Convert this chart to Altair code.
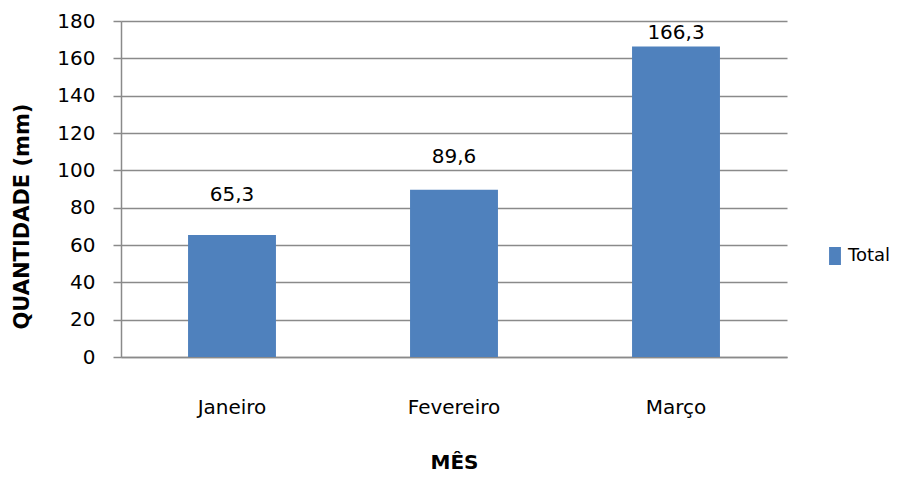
import altair as alt
import pandas as pd

months = ["Janeiro", "Fevereiro", "Março"]
totals = [65.3, 89.6, 166.3]
series = ["Total", "Total", "Total"]
y_ticks = [0, 20, 40, 60, 80, 100, 120, 140, 160, 180]
label_lift = {"Janeiro": 40, "Fevereiro": 33, "Março": 14}

df = pd.DataFrame({"Mes": months, "Total": totals, "Serie": series})

FONT = "DejaVu Sans"
GRAY = "#8a8a8a"
BLUE = "#4F81BD"

x_enc = alt.X(
    "Mes:N",
    sort=months,
    scale=alt.Scale(paddingInner=0.604, paddingOuter=0.302),
    axis=alt.Axis(
        title="MÊS", labelAngle=0, ticks=False, tickSize=0, labelPadding=40,
        labelFontSize=20, labelFont=FONT, labelColor="black",
        titleFont=FONT, titleFontSize=20, titleFontWeight="bold", titleColor="black",
        titleY=105, titleBaseline="middle",
        domainColor=GRAY, domainWidth=1.5, grid=False,
    ),
)
y_enc = alt.Y(
    "Total:Q",
    scale=alt.Scale(domain=[0, 180], nice=False),
    axis=alt.Axis(
        title="QUANTIDADE (mm)", values=y_ticks, labelOverlap=False, tickCount=10,
        tickSize=8, tickColor=GRAY, tickWidth=1.5, labelPadding=18,
        labelFontSize=20, labelFont=FONT, labelColor="black",
        gridColor=GRAY, gridWidth=1.5, domainColor=GRAY, domainWidth=1.5,
        titleFont=FONT, titleFontSize=21, titleFontWeight="bold", titleColor="black",
        titleAngle=-90, titleX=-99, titleY=195, titleBaseline="middle", titleAlign="center",
    ),
)

rect_path = "M-0.66,-1 L0.66,-1 L0.66,1 L-0.66,1 Z"

bars = alt.Chart(df).mark_bar().encode(
    x=x_enc,
    y=y_enc,
    color=alt.Color(
        "Serie:N",
        scale=alt.Scale(range=[BLUE]),
        legend=alt.Legend(
            title=None, orient="none", legendX=705, legendY=226,
            symbolType=rect_path, symbolSize=324, symbolStrokeWidth=0,
            symbolFillColor=BLUE, labelFontSize=18, labelFont=FONT,
            labelColor="black", labelOffset=4, labelLimit=0,
        ),
    ),
)

layers = [bars]
for m in months:
    t = (
        alt.Chart(df)
        .transform_filter(alt.datum.Mes == m)
        .transform_calculate(lbl="replace(format(datum.Total, '.1f'), '.', ',')")
        .mark_text(dy=-label_lift[m], fontSize=20, font=FONT, color="black", baseline="middle")
        .encode(x=x_enc, y=y_enc, text="lbl:N")
    )
    layers.append(t)

chart = (
    alt.layer(*layers)
    .properties(
        width=666, height=336,
        autosize=alt.AutoSizeParams(type="none"),
        padding={"left": 113, "top": 13, "right": 108, "bottom": 117},
        background="white",
    )
    .configure_view(stroke=None)
)

chart.save("out.html", embed_options={"renderer": "svg", "actions": False})
